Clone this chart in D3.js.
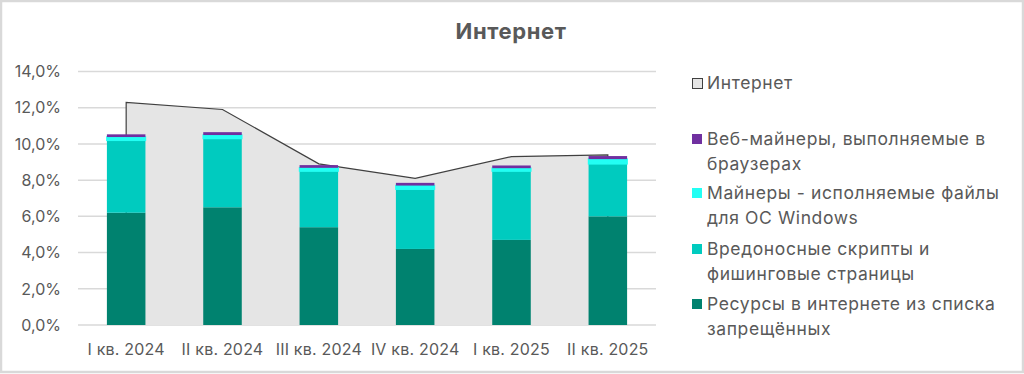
<!DOCTYPE html>
<html>
<head>
<meta charset="utf-8">
<script src="https://cdn.jsdelivr.net/npm/d3@7"></script>
<style>
    body { margin: 0; background: #fff; }
    svg { display: block; font-family: "Inter", "Noto Sans", sans-serif; }
</style>
</head>
<body>
<script>
const categories = ["I кв. 2024", "II кв. 2024", "III кв. 2024", "IV кв. 2024", "I кв. 2025", "II кв. 2025"];
const internet = [12.3, 11.9, 8.9, 8.1, 9.3, 9.4];
const blocked = [6.2, 6.5, 5.4, 4.2, 4.7, 6.0];
const scripts = [4.0, 3.8, 3.1, 3.3, 3.8, 2.9];
const winMiners = [0.18, 0.19, 0.18, 0.2, 0.16, 0.26];
const webMiners = [0.15, 0.16, 0.15, 0.15, 0.15, 0.17];
const yTicks = [0, 2, 4, 6, 8, 10, 12, 14];

const series = [
    { key: "blocked", values: blocked, color: "#00826f", label: ["Ресурсы в интернете из списка", "запрещённых"] },
    { key: "scripts", values: scripts, color: "#00cbbf", label: ["Вредоносные скрипты и", "фишинговые страницы"] },
    { key: "win", values: winMiners, color: "#22fff4", label: ["Майнеры - исполняемые файлы", "для ОС Windows"] },
    { key: "web", values: webMiners, color: "#7030a0", label: ["Веб-майнеры, выполняемые в", "браузерах"] }
];

const W = 1024, H = 374;
const plot = { left: 78, right: 656, top: 71.5, bottom: 325 };
const textColor = "#595959";

const svg = d3.select("body").append("svg")
    .attr("width", W)
    .attr("height", H);

svg.append("rect")
    .attr("x", 1).attr("y", 1)
    .attr("width", W - 2).attr("height", H - 3)
    .attr("fill", "#fff")
    .attr("stroke", "#d9d9d9")
    .attr("stroke-width", 2.5);

svg.append("text")
    .attr("x", 511).attr("y", 39)
    .attr("text-anchor", "middle")
    .attr("font-size", 22)
    .attr("font-weight", "bold")
    .attr("letter-spacing", 0.6)
    .attr("fill", textColor)
    .text("Интернет");

const x = d3.scaleBand().domain(categories).range([plot.left, plot.right]);
const y = d3.scaleLinear().domain([0, 14]).range([plot.bottom, plot.top]);
const barW = x.bandwidth() * 0.4;
const cx = d => x(d) + x.bandwidth() / 2;

// gridlines
svg.append("g")
    .selectAll("line")
    .data(yTicks)
    .enter().append("line")
    .attr("x1", plot.left).attr("x2", plot.right)
    .attr("y1", d => y(d)).attr("y2", d => y(d))
    .attr("stroke", "#d9d9d9")
    .attr("stroke-width", 1.5);

// y labels
svg.append("g")
    .selectAll("text")
    .data(yTicks)
    .enter().append("text")
    .attr("x", 61)
    .attr("y", d => y(d))
    .attr("dy", "0.36em")
    .attr("text-anchor", "end")
    .attr("font-size", 16)
    .attr("fill", textColor)
    .text(d => d3.format(".1f")(d).replace(".", ",") + "%");

// x labels
svg.append("g")
    .selectAll("text")
    .data(categories)
    .enter().append("text")
    .attr("x", d => cx(d))
    .attr("y", 355)
    .attr("text-anchor", "middle")
    .attr("font-size", 16)
    .attr("letter-spacing", 0.2)
    .attr("fill", textColor)
    .text(d => d);

// area series: fill, then outline without the bottom edge
const area = d3.area()
    .x((d, i) => cx(categories[i]))
    .y0(y(0))
    .y1(d => y(d));

svg.append("path")
    .attr("d", area(internet))
    .attr("fill", "#e5e5e5");

const outline = [[cx(categories[0]), y(0)]]
    .concat(internet.map((v, i) => [cx(categories[i]), y(v)]))
    .concat([[cx(categories[categories.length - 1]), y(0)]]);

svg.append("path")
    .attr("d", d3.line()(outline))
    .attr("fill", "none")
    .attr("stroke", "#404040")
    .attr("stroke-width", 1.2);

// stacked bars
const rows = categories.map((c, i) => {
    const r = { cat: c };
    series.forEach(s => r[s.key] = s.values[i]);
    return r;
});
const stacked = d3.stack().keys(series.map(s => s.key))(rows);

const layer = svg.append("g")
    .selectAll("g")
    .data(stacked)
    .enter().append("g")
    .attr("fill", (d, i) => series[i].color);

layer.selectAll("rect")
    .data(d => d)
    .enter().append("rect")
    .attr("x", d => cx(d.data.cat) - barW / 2)
    .attr("width", barW)
    .attr("y", d => y(d[1]))
    .attr("height", d => y(d[0]) - y(d[1]));

// the windows miners layer has a same-coloured outline in the original
layer.filter(d => d.key === "win").selectAll("rect")
    .attr("stroke", series[2].color)
    .attr("stroke-width", 1.5);

// legend
const legend = svg.append("g")
    .attr("font-size", 17.5)
    .attr("letter-spacing", 0.6)
    .attr("fill", textColor);
const lx = 692, tx = 707;

legend.append("rect")
    .attr("x", lx + 0.5).attr("y", 78.5)
    .attr("width", 10).attr("height", 10)
    .attr("fill", "#e5e5e5")
    .attr("stroke", "#404040");
legend.append("text").attr("x", tx).attr("y", 89).text("Интернет");

const legendItems = series.slice().reverse();
const legendY = [145, 199, 255, 310];
legendItems.forEach((s, i) => {
    const by = legendY[i];
    legend.append("rect")
        .attr("x", lx).attr("y", by - 11)
        .attr("width", 10).attr("height", 10)
        .attr("fill", s.color);
    s.label.forEach((line, j) => {
        legend.append("text")
            .attr("x", tx)
            .attr("y", by + j * 24.5)
            .text(line);
    });
});
</script>
</body>
</html>
